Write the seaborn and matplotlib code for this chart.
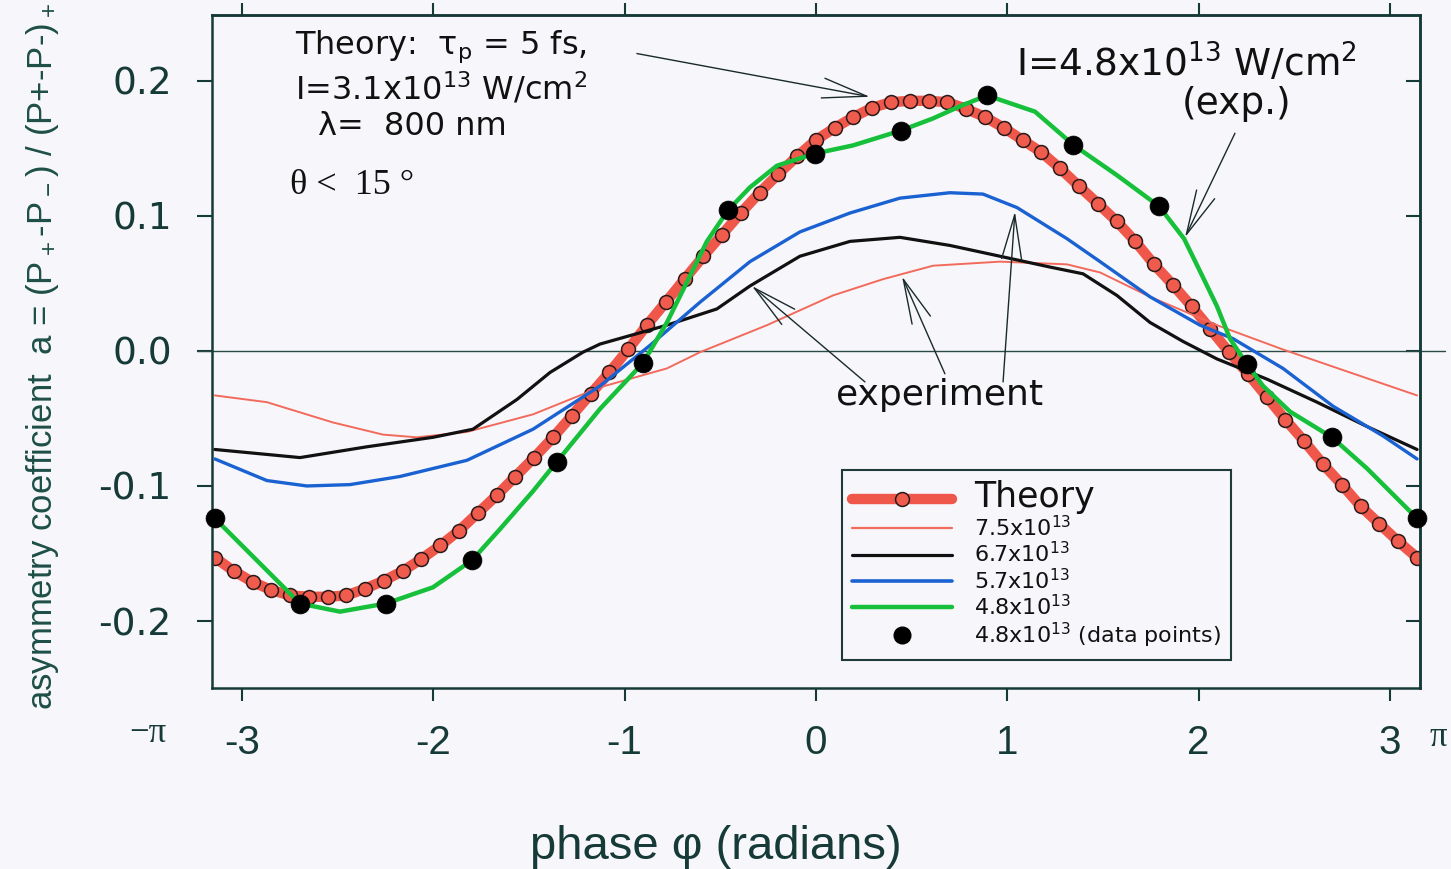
import numpy as np
import pandas as pd
import matplotlib
matplotlib.use("Agg")
import matplotlib.pyplot as plt
import seaborn as sns
from matplotlib.lines import Line2D

# ---------------- data ----------------
theory_phase = [-3.142, -3.043, -2.945, -2.847, -2.749, -2.651, -2.553, -2.454, -2.356, -2.258,
                -2.160, -2.062, -1.963, -1.865, -1.767, -1.669, -1.571, -1.473, -1.374, -1.276,
                -1.178, -1.080, -0.982, -0.884, -0.785, -0.687, -0.589, -0.491, -0.393, -0.295,
                -0.196, -0.098, 0.000, 0.098, 0.196, 0.295, 0.393, 0.491, 0.589, 0.687,
                0.785, 0.884, 0.982, 1.080, 1.178, 1.276, 1.374, 1.473, 1.571, 1.669,
                1.767, 1.865, 1.963, 2.062, 2.160, 2.258, 2.356, 2.454, 2.553, 2.651,
                2.749, 2.847, 2.945, 3.043, 3.142]
theory_a = [-0.153, -0.163, -0.171, -0.177, -0.181, -0.182, -0.182, -0.181, -0.176, -0.170,
            -0.163, -0.154, -0.144, -0.133, -0.120, -0.107, -0.093, -0.079, -0.064, -0.048,
            -0.032, -0.016, 0.001, 0.019, 0.036, 0.053, 0.070, 0.086, 0.102, 0.117,
            0.131, 0.144, 0.156, 0.165, 0.173, 0.180, 0.184, 0.185, 0.185, 0.184,
            0.179, 0.173, 0.165, 0.156, 0.147, 0.135, 0.122, 0.109, 0.096, 0.081,
            0.064, 0.049, 0.033, 0.016, -0.001, -0.017, -0.034, -0.051, -0.067, -0.084,
            -0.099, -0.115, -0.128, -0.141, -0.153]

i75_phase = [-3.142, -2.870, -2.525, -2.263, -2.086, -1.824, -1.479, -1.129, -0.779, -0.606,
             -0.256, 0.089, 0.350, 0.612, 0.962, 1.312, 1.485, 1.746, 2.096, 2.441, 2.791, 3.142]
i75_a = [-0.033, -0.038, -0.053, -0.062, -0.064, -0.060, -0.047, -0.027, -0.013, -0.001,
         0.019, 0.041, 0.053, 0.063, 0.066, 0.064, 0.058, 0.040, 0.019, 0.001, -0.016, -0.033]

i67_phase = [-3.142, -2.697, -2.347, -2.002, -1.793, -1.563, -1.390, -1.218, -1.129, -0.779,
             -0.518, -0.345, -0.084, 0.178, 0.439, 0.700, 0.962, 1.223, 1.396, 1.573,
             1.746, 1.918, 2.096, 2.201, 2.358, 2.619, 2.880, 3.142]
i67_a = [-0.073, -0.079, -0.071, -0.064, -0.058, -0.036, -0.016, -0.001, 0.005, 0.019,
         0.031, 0.048, 0.070, 0.081, 0.084, 0.078, 0.070, 0.062, 0.057, 0.041,
         0.021, 0.007, -0.006, -0.012, -0.021, -0.038, -0.056, -0.073]

i57_phase = [-3.142, -2.870, -2.661, -2.436, -2.175, -1.824, -1.479, -1.129, -0.868, -0.606,
             -0.345, -0.084, 0.178, 0.439, 0.700, 0.873, 1.051, 1.312, 1.485, 1.746,
             2.007, 2.180, 2.441, 2.703, 2.964, 3.142]
i57_a = [-0.080, -0.096, -0.100, -0.099, -0.093, -0.081, -0.058, -0.026, 0.004, 0.036,
         0.066, 0.088, 0.102, 0.113, 0.117, 0.116, 0.106, 0.083, 0.066, 0.040,
         0.019, 0.009, -0.013, -0.041, -0.063, -0.080]

i48_phase = [-3.142, -2.697, -2.488, -2.248, -2.002, -1.798, -1.652, -1.480, -1.354, -1.129,
             -0.904, -0.779, -0.674, -0.570, -0.460, -0.345, -0.204, -0.005, 0.193, 0.444,
             0.612, 0.753, 0.894, 1.145, 1.349, 1.573, 1.793, 1.924, 2.007, 2.096,
             2.164, 2.253, 2.337, 2.478, 2.697, 2.880, 3.142]
i48_a = [-0.124, -0.187, -0.193, -0.187, -0.175, -0.155, -0.132, -0.104, -0.082, -0.043,
         -0.009, 0.021, 0.051, 0.081, 0.104, 0.121, 0.137, 0.146, 0.152, 0.163,
         0.172, 0.181, 0.189, 0.177, 0.152, 0.130, 0.107, 0.083, 0.059, 0.033,
         0.009, -0.010, -0.026, -0.045, -0.064, -0.087, -0.124]

pts_phase = [-3.142, -2.697, -2.248, -1.798, -1.354, -0.904, -0.460, -0.005, 0.444, 0.894,
             1.346, 1.792, 2.253, 2.697, 3.142]
pts_a = [-0.124, -0.187, -0.187, -0.155, -0.082, -0.009, 0.104, 0.146, 0.163, 0.189,
         0.152, 0.107, -0.010, -0.064, -0.124]

x_ticks = [-3, -2, -1, 0, 1, 2, 3]
x_ticklabels = ["-3", "-2", "-1", "0", "1", "2", "3"]
y_ticks = [-0.2, -0.1, 0.0, 0.1, 0.2]
y_ticklabels = ["-0.2", "-0.1", "0.0", "0.1", "0.2"]

legend_labels = ["Theory", "7.5x10$^{13}$", "6.7x10$^{13}$", "5.7x10$^{13}$",
                 "4.8x10$^{13}$", "4.8x10$^{13}$ (data points)"]

# ---------------- style ----------------
BG = "#f7f7fb"
INK = "#163a38"
RED_BAND = "#f0574b"
RED_DOT = "#ef5b4c"
RED_THIN = "#f26a5c"
BLUE = "#1a62d2"
GREEN = "#17c03a"
TXT = "#111111"
WIDE = "DejaVu Sans"

sns.set_theme(style="white")
plt.rcParams["font.family"] = ["Liberation Sans", "DejaVu Sans"]
plt.rcParams["mathtext.fontset"] = "custom"
plt.rcParams["mathtext.rm"] = "DejaVu Sans"
plt.rcParams["mathtext.it"] = "DejaVu Sans:italic"
plt.rcParams["mathtext.default"] = "regular"

fig = plt.figure(figsize=(14.51, 8.69), dpi=100, facecolor=BG)
ax = fig.add_axes([0.1461, 0.2083, 0.8325, 0.7744])
ax.set_facecolor(BG)

df_th = pd.DataFrame({"phase": theory_phase, "a": theory_a})
df75 = pd.DataFrame({"phase": i75_phase, "a": i75_a})
df67 = pd.DataFrame({"phase": i67_phase, "a": i67_a})
df57 = pd.DataFrame({"phase": i57_phase, "a": i57_a})
df48 = pd.DataFrame({"phase": i48_phase, "a": i48_a})
dfp = pd.DataFrame({"phase": pts_phase, "a": pts_a})

sns.lineplot(data=df_th, x="phase", y="a", sort=False, estimator=None, ax=ax,
             color=RED_BAND, lw=7.5, marker="o", markersize=10,
             markerfacecolor=RED_DOT, markeredgecolor="#2a1a1a", markeredgewidth=1.1,
             zorder=2)
sns.lineplot(data=df75, x="phase", y="a", sort=False, estimator=None, ax=ax,
             color=RED_THIN, lw=1.4, zorder=3)
sns.lineplot(data=df67, x="phase", y="a", sort=False, estimator=None, ax=ax,
             color="#111111", lw=2.3, zorder=3)
sns.lineplot(data=df57, x="phase", y="a", sort=False, estimator=None, ax=ax,
             color=BLUE, lw=2.4, zorder=3)
sns.lineplot(data=df48, x="phase", y="a", sort=False, estimator=None, ax=ax,
             color=GREEN, lw=3.2, zorder=4)
sns.scatterplot(data=dfp, x="phase", y="a", ax=ax, color="black", s=185,
                edgecolor="black", linewidth=0.5, zorder=5, clip_on=False)

ax.axhline(0, xmin=-0.0124, xmax=1.0207, color="#2a4a48", lw=1.0, clip_on=False, zorder=1)

ax.set_xlim(-3.157, 3.157)
ax.set_ylim(-0.2495, 0.2485)

ax.set_xticks(x_ticks)
ax.set_xticklabels(x_ticklabels, fontsize=29, color=INK)
ax.set_yticks(y_ticks)
ax.set_yticklabels(y_ticklabels, fontfamily=WIDE, fontsize=27, color=INK)
ax.tick_params(axis="x", direction="out", length=9, width=1.5, color=INK, pad=17, bottom=True)
ax.tick_params(axis="y", direction="out", length=11, width=1.5, color=INK, pad=18, left=True)

secx = ax.secondary_xaxis("top")
secx.set_xticks(x_ticks)
secx.tick_params(axis="x", direction="out", length=9, width=1.5, color=INK, labeltop=False)
secy = ax.secondary_yaxis("right")
secy.set_yticks(y_ticks)
secy.tick_params(axis="y", direction="in", length=10, width=1.5, color=INK, labelright=False)
for a_ in (ax, secx, secy):
    for sp in a_.spines.values():
        sp.set_color(INK)
        sp.set_linewidth(1.8)

ax.set_xlabel("phase φ (radians)", fontsize=34, color=INK)
ax.xaxis.set_label_coords(0.417, -0.203)
ax.set_ylabel("asymmetry coefficient  a = (P$_+$-P$_-$) / (P+-P-)$_+$",
              fontsize=25, color="#1d4f47")
ax.yaxis.set_label_coords(-0.125, 0.492)

ax.text(-0.053, -0.067, "−π", transform=ax.transAxes, ha="center", va="center",
        fontfamily="Liberation Serif", fontsize=25, color=INK, clip_on=False)
ax.text(1.015, -0.074, "π", transform=ax.transAxes, ha="center", va="center",
        fontfamily="Liberation Serif", fontsize=25, color=INK, clip_on=False)

ax.text(-2.723, 0.225, "Theory:  τ$_p$ = 5 fs,", ha="left", va="center",
        fontfamily=WIDE, fontsize=23, color=TXT)
ax.text(-2.723, 0.194, "I=3.1x10$^{13}$ W/cm$^2$", ha="left", va="center",
        fontfamily=WIDE, fontsize=23, color=TXT)
ax.text(-2.603, 0.166, "λ=  800 nm", ha="left", va="center",
        fontfamily=WIDE, fontsize=23, color=TXT)
ax.text(-2.75, 0.122, "θ <  15 °", ha="left", va="center", fontfamily="Liberation Serif",
        fontsize=26, color=TXT)
ax.text(1.939, 0.213, "I=4.8x10$^{13}$ W/cm$^2$", ha="center", va="center",
        fontfamily=WIDE, fontsize=27, color=TXT)
ax.text(2.20, 0.183, "(exp.)", ha="center", va="center", fontfamily=WIDE, fontsize=27, color=TXT)
ax.text(0.648, -0.033, "experiment", ha="center", va="center", fontfamily=WIDE,
        fontsize=26, color=TXT)

arrow_kw = dict(arrowstyle="->,head_length=0.8,head_width=0.18", lw=1.0, color="#1a2a2a",
                mutation_scale=40, shrinkA=0, shrinkB=0)
for tail, tip in [((-0.936, 0.220), (0.282, 0.188)),
                  ((2.19, 0.161), (1.929, 0.084)),
                  ((0.256, -0.023), (-0.335, 0.048)),
                  ((0.674, -0.017), (0.450, 0.055)),
                  ((0.978, -0.023), (1.040, 0.103))]:
    ax.annotate("", xy=tip, xytext=tail, arrowprops=arrow_kw)

handles = [
    Line2D([], [], color=RED_BAND, lw=7.5, marker="o", markersize=10,
           markerfacecolor=RED_DOT, markeredgecolor="#2a1a1a", markeredgewidth=1.1),
    Line2D([], [], color=RED_THIN, lw=1.6),
    Line2D([], [], color="#111111", lw=2.3),
    Line2D([], [], color=BLUE, lw=2.6),
    Line2D([], [], color=GREEN, lw=3.2),
    Line2D([], [], color="black", lw=0, marker="o", markersize=12),
]
leg = ax.legend(handles, legend_labels, loc="upper left", bbox_to_anchor=(0.5215, 0.324),
                borderaxespad=0, prop={"family": WIDE, "size": 16}, handlelength=4.5,
                handletextpad=1.0, labelspacing=0.05, numpoints=1, fancybox=False,
                frameon=True, borderpad=0.45)
leg.get_frame().set_edgecolor("#1f3a38")
leg.get_frame().set_linewidth(1.5)
leg.get_frame().set_facecolor(BG)
leg.get_frame().set_alpha(1)
leg.get_texts()[0].set_fontsize(25)
for t in leg.get_texts():
    t.set_color(TXT)

fig.savefig("out.png", dpi=100, facecolor=BG)
